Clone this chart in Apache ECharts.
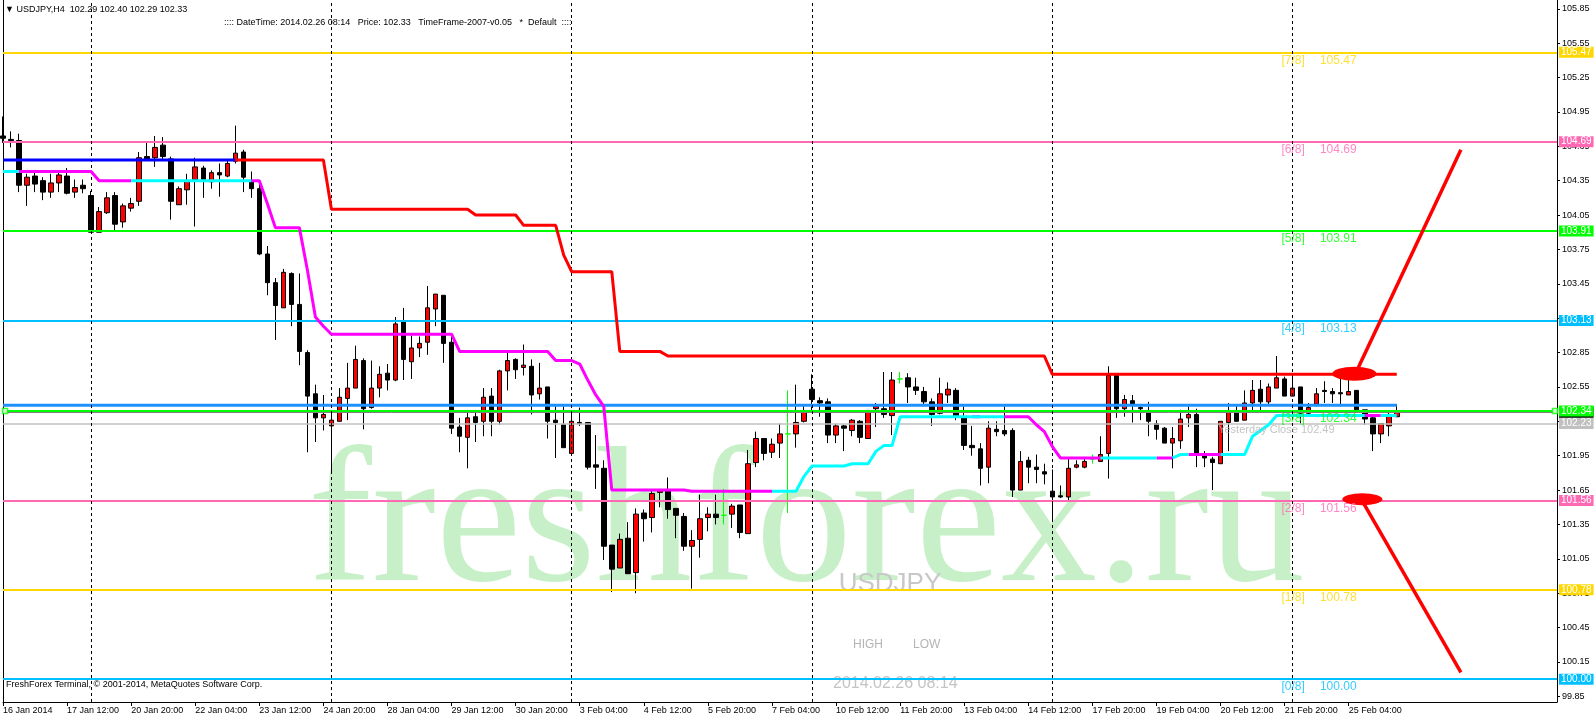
<!DOCTYPE html>
<html><head><meta charset="utf-8">
<script src="https://cdn.jsdelivr.net/npm/echarts@6/dist/echarts.min.js"></script>
<style>html,body{margin:0;padding:0;background:#fff}#c{width:1596px;height:720px}</style>
</head><body><div id="c"></div>
<script>
// ---------------- DATA ----------------
const tickLabels = ['16 Jan 2014','17 Jan 12:00','20 Jan 20:00','22 Jan 04:00','23 Jan 12:00','24 Jan 20:00','28 Jan 04:00','29 Jan 12:00','30 Jan 20:00','3 Feb 04:00','4 Feb 12:00','5 Feb 20:00','7 Feb 04:00','10 Feb 12:00','11 Feb 20:00','13 Feb 04:00','14 Feb 12:00','17 Feb 20:00','19 Feb 04:00','20 Feb 12:00','21 Feb 20:00','25 Feb 04:00'];
const priceTicks = [99.85,100.15,100.45,100.75,101.05,101.35,101.65,101.95,102.25,102.55,102.85,103.15,103.45,103.75,104.05,104.35,104.65,104.95,105.25,105.55,105.85];

const opens = [104.74,104.71,104.70,104.31,104.39,104.35,104.25,104.33,104.39,104.25,
104.31,104.22,103.90,104.07,104.22,103.99,104.11,104.17,104.56,104.55,
104.66,104.54,104.14,104.27,104.36,104.46,104.34,104.42,104.39,104.52,
104.60,104.34,104.28,103.71,103.46,103.24,103.54,103.27,102.85,102.49,
102.28,102.21,102.25,102.45,102.54,102.78,102.37,102.54,102.67,102.61,
103.12,102.77,102.89,102.94,103.23,103.35,102.94,102.20,102.11,102.29,
102.25,102.47,102.25,102.69,102.79,102.72,102.73,102.49,102.55,102.26,
102.22,101.97,102.24,102.24,101.87,101.84,101.17,100.97,101.23,100.93,
101.45,101.41,101.63,101.65,101.49,101.42,101.16,101.22,101.41,101.44,
101.43,101.44,101.52,101.27,101.89,102.10,101.98,102.06,102.14,102.14,
102.25,102.53,102.43,102.42,102.13,102.21,102.17,102.25,102.10,102.36,
102.36,102.30,102.62,102.63,102.55,102.51,102.42,102.32,102.48,102.52,
102.29,102.04,102.01,101.85,102.18,102.17,102.17,101.65,101.91,101.85,
101.81,101.64,101.60,101.59,101.85,101.85,101.92,101.90,101.97,102.65,
102.36,102.43,102.37,102.34,102.23,102.19,102.06,102.08,102.28,102.31,
101.96,101.92,101.88,102.24,102.34,102.26,102.41,102.53,102.42,102.54,
102.62,102.47,102.55,102.32,102.40,102.52,102.51,102.50,102.48,102.52,
102.35,102.28,102.14,102.21,102.29];
const highs = [104.91,104.78,104.76,104.41,104.43,104.38,104.41,104.43,104.46,104.36,
104.36,104.26,104.12,104.25,104.25,104.15,104.20,104.60,104.68,104.74,
104.73,104.56,104.30,104.41,104.55,104.48,104.44,104.50,104.54,104.83,
104.62,104.43,104.34,103.78,103.50,103.58,103.55,103.54,102.87,102.57,
102.48,102.32,102.54,102.76,102.91,102.80,102.78,102.73,102.75,103.16,
103.24,103.00,102.99,103.43,103.36,103.35,102.99,102.28,102.33,102.33,
102.54,102.54,102.70,102.87,102.80,102.92,102.79,102.76,102.55,102.38,
102.38,102.34,102.37,102.24,102.13,101.91,101.17,101.27,101.37,101.49,
101.48,101.65,101.66,101.76,101.49,101.45,101.30,101.61,101.50,101.61,
101.66,101.53,101.52,102.00,102.16,102.10,102.10,102.23,102.52,102.57,
102.39,102.66,102.46,102.45,102.23,102.22,102.27,102.26,102.35,102.41,
102.68,102.68,102.68,102.67,102.63,102.55,102.45,102.63,102.59,102.54,
102.38,102.21,102.06,102.25,102.25,102.38,102.19,101.99,101.94,101.96,
101.88,101.83,101.69,101.93,101.91,101.94,101.96,102.12,102.73,102.67,
102.48,102.48,102.38,102.42,102.26,102.20,102.20,102.35,102.38,102.36,
101.99,101.94,102.25,102.41,102.39,102.52,102.61,102.61,102.58,102.82,
102.64,102.64,102.55,102.41,102.54,102.60,102.54,102.62,102.61,102.52,
102.35,102.29,102.23,102.33,102.40];
const lows = [104.68,104.64,104.25,104.13,104.25,104.18,104.20,104.25,104.23,104.20,
104.24,103.90,103.90,104.06,103.91,103.94,104.08,104.13,104.53,104.47,
104.54,104.01,104.14,104.14,103.95,104.20,104.28,104.21,104.38,104.50,
104.25,104.20,103.70,103.35,102.96,103.24,103.08,102.74,101.98,102.07,
102.17,101.80,102.25,102.26,102.54,102.18,102.36,102.46,102.52,102.60,
102.61,102.62,102.81,102.83,103.08,102.76,102.14,101.98,101.84,102.07,
102.12,102.12,102.22,102.52,102.62,102.65,102.31,102.44,102.10,101.93,
102.02,101.97,102.21,101.83,101.66,101.04,100.76,100.97,100.92,100.75,
101.20,101.28,101.50,101.40,101.23,101.12,100.79,101.06,101.29,101.35,
101.35,101.32,101.23,101.27,101.85,101.91,101.93,101.93,101.45,102.02,
102.24,102.33,102.29,102.06,102.06,101.99,102.12,102.06,102.10,102.20,
102.28,102.13,102.58,102.41,102.48,102.39,102.21,102.31,102.41,102.26,
102.00,101.95,101.69,101.71,102.12,102.12,101.59,101.65,101.71,101.71,
101.70,101.38,101.58,101.56,101.84,101.84,101.88,101.90,101.75,102.28,
102.29,102.24,102.26,102.12,102.09,102.06,101.84,102.01,102.20,101.85,
101.85,101.65,101.88,101.99,102.25,102.26,102.33,102.33,102.39,102.54,
102.47,102.47,102.23,102.31,102.38,102.41,102.41,102.38,102.48,102.35,
102.22,101.99,102.06,102.12,102.29];
const closes = [104.72,104.70,104.31,104.38,104.32,104.25,104.33,104.40,104.24,104.29,
104.28,103.90,104.08,104.20,103.97,104.13,104.15,104.55,104.54,104.64,
104.56,104.17,104.28,104.35,104.47,104.36,104.42,104.40,104.50,104.59,
104.38,104.28,103.71,103.46,103.26,103.55,103.27,102.86,102.47,102.28,
102.31,102.26,102.46,102.54,102.79,102.36,102.54,102.66,102.61,103.10,
102.79,102.89,102.93,103.24,103.36,102.93,102.19,102.12,102.28,102.24,
102.46,102.25,102.69,102.78,102.70,102.74,102.48,102.54,102.25,102.24,
102.02,102.25,102.23,101.85,101.85,101.16,100.96,101.22,100.92,101.44,
101.40,101.62,101.65,101.48,101.43,101.16,101.21,101.40,101.44,101.41,
101.43,101.51,101.28,101.88,102.10,101.97,102.05,102.14,102.14,102.24,
102.34,102.44,102.41,102.13,102.21,102.19,102.26,102.11,102.34,102.38,
102.31,102.61,102.62,102.55,102.52,102.42,102.31,102.49,102.53,102.29,
102.04,102.02,101.84,102.19,102.16,102.14,101.65,101.90,101.85,101.83,
101.79,101.59,101.59,101.84,101.87,101.90,101.92,101.96,102.65,102.36,
102.44,102.39,102.36,102.25,102.18,102.06,102.10,102.27,102.31,101.97,
101.93,101.89,102.25,102.34,102.25,102.41,102.52,102.42,102.55,102.63,
102.47,102.54,102.32,102.37,102.49,102.51,102.49,102.49,102.51,102.35,
102.27,102.14,102.23,102.31,102.33];

// support line (per bar) and the bars where it is drawn cyan instead of magenta
const supportLine = [
104.43,104.43,104.43,104.43,104.43,104.43,104.43,104.43,104.43,104.43,104.43,104.43,
104.35,104.35,104.35,104.35,104.35,104.35,104.35,104.35,104.35,104.35,104.35,104.35,104.35,104.35,104.35,104.35,104.35,104.35,104.35,104.35,104.35,
104.15,103.94,103.94,103.94,103.94,103.57,103.16,103.08,
103.01,103.01,103.01,103.01,103.01,103.01,103.01,103.01,103.01,103.01,103.01,103.01,103.01,103.01,103.01,103.01,
102.86,102.86,102.86,102.86,102.86,102.86,102.86,102.86,102.86,102.86,102.86,102.86,
102.78,102.78,102.78,102.75,102.61,102.48,102.38,
101.65,101.65,101.65,101.65,101.65,101.65,101.65,101.65,101.65,101.65,
101.64,101.64,101.64,101.64,101.64,101.64,101.64,101.64,101.64,101.64,101.64,101.64,101.64,101.64,
101.77,101.86,101.86,101.86,101.86,101.86,101.88,101.88,101.88,101.99,102.04,102.04,
102.29,102.29,102.29,102.29,102.29,102.29,102.29,102.29,102.29,102.29,102.29,102.29,102.29,102.29,102.29,102.29,102.29,
102.22,102.16,102.03,
101.93,101.93,101.93,101.93,101.93,101.93,101.93,101.93,101.93,101.93,101.93,101.93,101.93,101.93,101.93,
101.96,101.96,101.96,101.96,101.96,101.96,101.96,101.96,101.96,
102.12,102.17,102.22,
102.30,102.30,102.30,102.30,102.30,102.30,102.30,102.30,102.30,102.30,102.30,102.30,102.30,102.30,102.30,102.30];
const cyanSpans = [[0,2],[16,31],[96,121],[122,125],[137,144],[146,148],[152,170],[172,174]];

// resistance line vertices [bar, price]
const blueResistance = [[0,104.53],[29,104.53]];
const redResistance = [[29,104.53],[40,104.53],[41,104.10],[58,104.10],[59,104.05],[64,104.05],[65,103.96],[69,103.96],[70,103.70],[71,103.555],[76,103.555],[77,102.86],[82,102.86],[83,102.82],[130,102.82],[131,102.66],[174,102.66]];
const dayHighLine = [[0,102.39],[174,102.39]];

// Murrey levels
const levelNames = ['[7/8]','[6/8]','[5/8]','[4/8]','[3/8]','[2/8]','[1/8]','[0/8]'];
const levelValues = [105.47,104.69,103.91,103.13,102.34,101.56,100.78,100.00];
const levelColors = ['#FFD700','#FF69B4','#00FF00','#00BFFF','#00FF00','#FF69B4','#FFD700','#00BFFF'];
const yesterdayLine = 102.23;
const bidPrice = 102.33;
const separators = [11,41,71,101,131,161];

// projection arrows & ellipses [bar, price]
const upArrow = [[169.2,102.72],[182.0,104.62]];
const downArrow = [[169.9,101.53],[182.0,100.06]];
const ellipses = [[168.7,102.665,44,14],[169.7,101.57,40,12]];

// texts
const headerLeft = '\u25BC USDJPY,H4  102.29 102.40 102.29 102.33';
const headerRight = ':::: DateTime: 2014.02.26 08:14   Price: 102.33   TimeFrame-2007-v0.05   *  Default  ::::';
const footerText = 'FreshForex Terminal, \u00A9 2001-2014, MetaQuotes Software Corp.';
const watermark = 'freshforex.ru';
const yesterdayText = 'Yesterday Close 102.49';

// ---------------- CHART ----------------
const fam = '"Liberation Sans", Arial, sans-serif';
const N = 195;
const step = 8;
const categories = [];
for (let i = 0; i < N; i++) {
  const k = i / step;
  categories.push(Number.isInteger(k) && k < tickLabels.length ? tickLabels[k] : 'b' + i);
}
const showTick = (idx) => idx % step === 0 && idx / step < tickLabels.length;

const candleData = opens.map((o, i) => [o, closes[i], lows[i], highs[i]]);
const inCyan = i => cyanSpans.some(([a, b]) => i >= a && i <= b);
const inCyanInner = i => cyanSpans.some(([a, b]) => i > a && i < b);
const cyanData = supportLine.map((v, i) => inCyan(i) ? [i, v] : [i, null]);
const magentaData = supportLine.map((v, i) => inCyanInner(i) ? [i, null] : [i, v]);

const tag = (v, color, txtColor) => ({
  yAxis: v,
  lineStyle: {color: color},
  label: {show: true, backgroundColor: color, color: txtColor || '#fff'}
});

const levelMark = levelValues.map((v, k) => tag(v, levelColors[k]));
const levelLabelData = [];
levelValues.forEach((v, k) => {
  levelLabelData.push({value: [159.6, v], label: {formatter: levelNames[k], color: levelColors[k]}});
  levelLabelData.push({value: [164.4, v], label: {formatter: v.toFixed(2), color: levelColors[k]}});
});

const lineBase = {type: 'line', showSymbol: false, symbol: 'none', silent: true, animation: false, connectNulls: false};

const option = {
  animation: false,
  backgroundColor: '#fff',
  textStyle: {fontFamily: fam},
  grid: {left: 3, right: 39, top: 0, bottom: 18, show: false},
  xAxis: [
    {type: 'category', data: categories, boundaryGap: false,
     axisLine: {show: true, lineStyle: {color: '#000', width: 1}},
     axisTick: {show: true, interval: (i) => showTick(i), length: 4, lineStyle: {color: '#000'}},
     axisLabel: {interval: (i) => showTick(i), align: 'left', fontSize: 9, color: '#000', margin: 4, fontFamily: fam},
     splitLine: {show: false}},
    {type: 'value', min: 0, max: N - 1, show: false}
  ],
  yAxis: [
    {type: 'value', position: 'right', min: 99.8007, max: 105.9264,
     splitLine: {show: false},
     axisLine: {show: true, onZero: false, lineStyle: {color: '#000'}},
     axisTick: {show: true, length: 3, customValues: priceTicks, lineStyle: {color: '#000'}},
     axisLabel: {customValues: priceTicks, formatter: v => v.toFixed(2), fontSize: 9, color: '#000', margin: 5, fontFamily: fam}},
    {type: 'value', position: 'left', min: 99.8007, max: 105.9264,
     splitLine: {show: false}, axisTick: {show: false}, axisLabel: {show: false},
     axisLine: {show: true, onZero: false, lineStyle: {color: '#000'}}}
  ],
  graphic: [
    {type: 'text', z: 0, x: 308, y: 530, silent: true,
     style: {text: watermark, fill: '#c8f0c8', font: '192px "Liberation Serif", "Times New Roman", serif', align: 'left', verticalAlign: 'middle', textAlign: 'left', textVerticalAlign: 'middle'}},
    {type: 'text', z: 0, x: 890, y: 584, silent: true,
     style: {text: 'USDJPY', fill: '#c8c8c8', font: '26px ' + fam, align: 'center', verticalAlign: 'middle', textAlign: 'center', textVerticalAlign: 'middle'}},
    {type: 'text', z: 0, x: 853, y: 645, silent: true,
     style: {text: 'HIGH', fill: '#b4b4b4', font: '12px ' + fam, align: 'left', verticalAlign: 'middle', textAlign: 'left', textVerticalAlign: 'middle'}},
    {type: 'text', z: 0, x: 913, y: 645, silent: true,
     style: {text: 'LOW', fill: '#b4b4b4', font: '12px ' + fam, align: 'left', verticalAlign: 'middle', textAlign: 'left', textVerticalAlign: 'middle'}},
    {type: 'text', z: 0, x: 833, y: 684, silent: true,
     style: {text: '2014.02.26 08:14', fill: '#c4c4c4', font: '16px ' + fam, align: 'left', verticalAlign: 'middle', textAlign: 'left', textVerticalAlign: 'middle'}},
    {type: 'text', z: 50, x: 5, y: 10, silent: true,
     style: {text: headerLeft, fill: '#000', font: '9px ' + fam, align: 'left', verticalAlign: 'middle', textAlign: 'left', textVerticalAlign: 'middle'}},
    {type: 'text', z: 50, x: 224, y: 23, silent: true,
     style: {text: headerRight, fill: '#000', font: '9px ' + fam, align: 'left', verticalAlign: 'middle', textAlign: 'left', textVerticalAlign: 'middle'}},
    {type: 'text', z: 50, x: 6, y: 685, silent: true,
     style: {text: footerText, fill: '#000', font: '9px ' + fam, align: 'left', verticalAlign: 'middle', textAlign: 'left', textVerticalAlign: 'middle'}}
  ],
  series: [
    {type: 'candlestick', name: 'USDJPY', data: candleData, barWidth: 5, z: 2, silent: true, animation: false,
     itemStyle: {color: '#ff0000', color0: '#000000', borderColor: '#000000', borderColor0: '#000000', borderColorDoji: '#00ff00', borderWidth: 1}},
    Object.assign({}, lineBase, {name: 'dayhigh', data: dayHighLine, z: 4,
      lineStyle: {color: '#1E90FF', width: 3},
      markLine: {silent: true, symbol: ['none', 'none'], animation: false,
        lineStyle: {type: 'solid', width: 2},
        label: {show: true, position: 'end', distance: 2, fontSize: 10, fontFamily: fam, lineHeight: 10, padding: [1, 2, 0, 2],
                formatter: p => Number(p.value).toFixed(2)},
        data: [
          {yAxis: bidPrice, lineStyle: {color: '#808080', width: 1}, label: {show: true, backgroundColor: '#000', color: '#fff'}},
          {yAxis: yesterdayLine, lineStyle: {color: '#c0c0c0', width: 1.5}, label: {show: true, backgroundColor: '#c0c0c0', color: '#fff'}}
        ].concat(levelMark).concat(separators.map(s => ({xAxis: s, lineStyle: {color: '#000', width: 1, type: [3, 3]}, label: {show: false}})))
      }}),
    Object.assign({}, lineBase, {name: 'blueRes', data: blueResistance, z: 5, lineStyle: {color: '#0000FF', width: 3}}),
    Object.assign({}, lineBase, {name: 'redRes', data: redResistance, z: 5, lineStyle: {color: '#FF0000', width: 3}}),
    Object.assign({}, lineBase, {name: 'supMag', data: magentaData, z: 5, lineStyle: {color: '#FF00FF', width: 3}}),
    Object.assign({}, lineBase, {name: 'supCyan', data: cyanData, z: 5, lineStyle: {color: '#00FFFF', width: 3}}),
    Object.assign({}, lineBase, {name: 'up', xAxisIndex: 1, data: upArrow, z: 6, lineStyle: {color: '#FF0000', width: 3.5}}),
    Object.assign({}, lineBase, {name: 'down', xAxisIndex: 1, data: downArrow, z: 6, lineStyle: {color: '#FF0000', width: 3.5}}),
    {type: 'scatter', xAxisIndex: 1, z: 6, silent: true, animation: false,
     data: ellipses.map(e => ({value: [e[0], e[1]], symbolSize: [e[2], e[3]]})),
     symbol: 'circle', itemStyle: {color: '#FF0000', opacity: 1}},
    {type: 'scatter', xAxisIndex: 1, z: 7, silent: true, animation: false,
     data: [[0.25, 102.34], [193.75, 102.34]], symbol: 'rect', symbolSize: 5,
     itemStyle: {color: '#fff', borderColor: '#00FF00', borderWidth: 1.5}},
    {type: 'scatter', xAxisIndex: 1, z: 7, silent: true, animation: false,
     data: levelLabelData, symbolSize: 0,
     label: {show: true, position: 'right', distance: 0, offset: [0, 8], fontSize: 12, fontFamily: fam, align: 'left', verticalAlign: 'middle'}},
    {type: 'scatter', xAxisIndex: 1, z: 7, silent: true, animation: false,
     data: [[151.7, yesterdayLine]], symbolSize: 0,
     label: {show: true, position: 'right', distance: 0, offset: [0, 6], formatter: yesterdayText, color: '#b4b4b4', fontSize: 11, fontFamily: fam, align: 'left', verticalAlign: 'middle'}}
  ]
};
const chart = echarts.init(document.getElementById('c'), null, {renderer: 'canvas'});
chart.setOption(option);
</script>
</body></html>
